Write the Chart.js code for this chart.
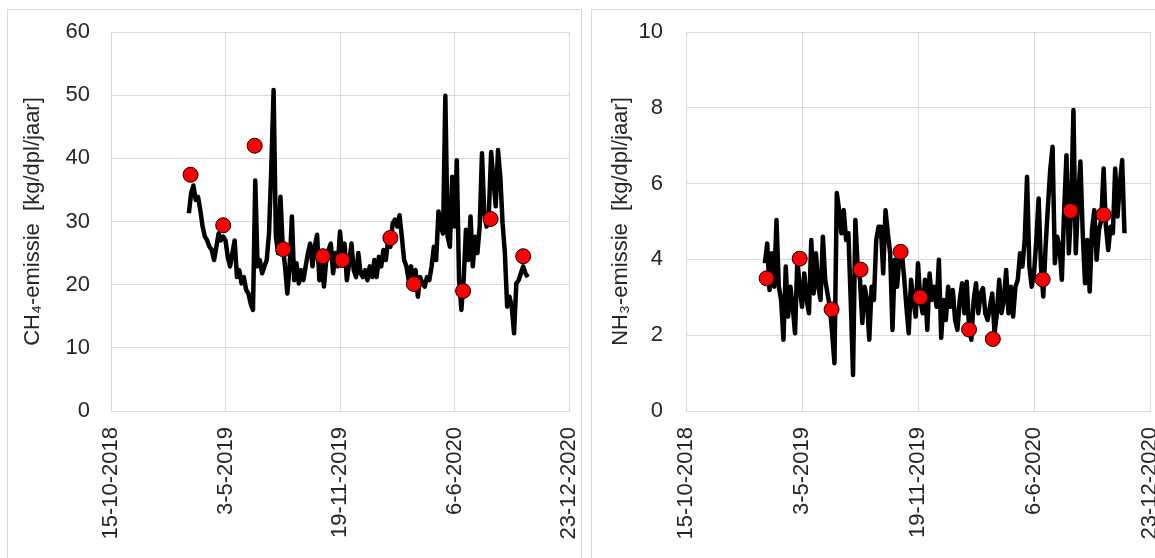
<!DOCTYPE html>
<html>
<head>
<meta charset="utf-8">
<script src="https://cdn.jsdelivr.net/npm/chart.js@4/dist/chart.umd.min.js"></script>
<style>
  html, body { margin: 0; padding: 0; background: #fff; overflow: hidden; }
  body { width: 1155px; height: 558px; position: relative; }
  .panel { position: absolute; top: 9px; height: 600px; border: 1px solid #d9d9d9; box-sizing: border-box; }
  canvas { position: absolute; top: 9px; }
</style>
</head>
<body>
<div class="panel" style="left:7px;width:575px;"></div>
<div class="panel" style="left:591px;width:600px;"></div>
<canvas id="ch4Chart" width="574" height="549" style="left:7px;"></canvas>
<canvas id="nh3Chart" width="580" height="549" style="left:591px;"></canvas>
<script>
// days counted from 15-10-2018; daily line sampled every 4 days
var lineStartDay = 136;
var lineStepDays = 4;

var ch4Daily = [
  31.3, 34.5, 35.7, 33.4, 33.9, 31.8, 29.2, 27.6, 27, 26, 25.5, 23.9, 26, 28.1, 27, 27.6, 27,
  24.4, 22.9, 25, 27, 21.2, 22.3, 20.2, 21.2, 19.2, 18.6, 17, 16, 36.5, 22.9, 23.9, 21.8, 22.9,
  23.9, 28.1, 38.4, 50.8, 27.6, 25, 33.9, 26, 22.9, 18.6, 22.9, 30.8, 20.7, 23.4, 20.2, 22.3, 20.7,
  22.9, 25, 26.5, 22.9, 26, 27.9, 20.7, 23.9, 19.7, 23.9, 25.5, 26.5, 21.8, 25, 22.9, 28.4, 24.4,
  26.5, 20.7, 23.4, 26.5, 22.3, 21.2, 25, 21.8, 21.2, 22.3, 20.7, 22.9, 21.2, 23.9, 21.2, 24.4,
  22.9, 25.5, 23.9, 27, 26, 29.7, 30.3, 29.2, 31, 27.6, 23.9, 22.9, 20.7, 22.9, 20.7, 22.3, 18.1,
  21.2, 20.2,
  19.7, 21.2, 20.7, 22.9, 26, 23.9, 31.6, 29.2, 28.1, 49.9, 27.6, 26, 37.1, 29.2, 39.7, 20.7, 16,
  20.7, 28.7, 23.9, 30.8, 22.9, 27.6, 25, 29.2, 40.8, 31.3, 29.2, 31.3, 41, 36.6, 32.4, 41.3, 37.1,
  29.7, 25, 16.5, 18.1, 16.5, 12.3, 20.2, 20.7, 21.8, 22.9, 21.8, 21.2
];

var nh3Daily = [
  3.9, 4.42, 3.19, 4.16, 3.28, 5.04, 3.28, 2.93, 1.88, 3.81, 2.49, 3.28, 2.75, 2.05, 3.99, 3.28,
  2.75, 3.63, 2.93, 2.58, 4.51, 3.1, 4.16, 3.28, 2.93, 4.6, 3.46, 3.1, 2.75, 2.05, 1.26, 5.75, 5.3,
  4.69, 5.3, 4.51, 4.69, 2.93, 0.95, 5.04, 3.81, 3.46, 2.32, 3.28, 2.93, 1.88, 3.28, 2.93, 4.51, 4.86,
  4.86, 3.63, 5.3, 4.69, 4.16, 2.14, 3.99, 3.28, 4.07, 4.2, 3.54, 2.75, 2.05, 3.46, 2.93, 2.49, 3.9,
  2.93, 2.58, 3.46, 2.14, 3.63, 2.93, 3.28, 2.75, 3.99, 1.93, 2.93, 2.4, 3.28, 2.75, 3.19, 2.4, 2.14,
  2.93, 3.37, 2.58, 3.41, 2.23, 1.88, 2.93, 3.37, 2.58, 3.1, 3.24, 2.58, 2.4, 2.75, 3.1, 2.05, 2.58,
  3.46, 2.58, 2.93, 3.72, 2.58, 3.28, 2.49, 3.28, 3.46, 4.16, 3.81, 4.51, 6.18, 3.81, 3.28, 3.63,
  4.51, 5.61, 3.81, 3.02, 4.33, 5.39, 6.36, 6.97, 3.9, 4.6, 4.33, 3.46, 5.3, 6.75, 4.16, 5.3, 7.94,
  4.16, 5.57, 6.58, 4.69, 3.37, 4.51, 3.15, 4.78, 5.3, 3.99, 4.78, 5.04, 6.4, 4.86, 4.25, 4.86, 4.69,
  6.4, 5.13, 6.0, 6.62, 4.69
];

// red sample points
var sampleDays = [139, 196, 251, 301, 370, 404, 488, 529, 615, 663, 720];
var ch4Samples = [37.4, 29.4, 42, 25.6, 24.5, 23.9, 27.4, 20.1, 19, 30.4, 24.5];
var nh3Samples = [3.5, 4.02, 2.68, 3.73, 4.2, 3.0, 2.15, 1.9, 3.47, 5.28, 5.18];

var baseDate = Date.UTC(2018, 9, 15);

function dayLabel(d) {
  var t = new Date(baseDate + d * 86400000);
  return t.getUTCDate() + '-' + (t.getUTCMonth() + 1) + '-' + t.getUTCFullYear();
}

function noPad(s) {
  s.paddingTop = 0;
  s.paddingBottom = 0;
  s.paddingLeft = 0;
  s.paddingRight = 0;
}

Chart.defaults.font.family = '"Liberation Sans", Arial, sans-serif';
Chart.defaults.color = '#262626';

function makeChart(id, daily, samples, yMax, yStep, title, cfg) {
  var linePts = daily.map(function (v, i) { return { x: lineStartDay + i * lineStepDays, y: v }; });
  var dotPts = samples.map(function (v, i) { return { x: sampleDays[i], y: v }; });
  return new Chart(document.getElementById(id), {
    type: 'line',
    data: {
      datasets: [
        {
          data: dotPts,
          showLine: false,
          pointRadius: 7.5,
          pointBackgroundColor: '#ff0000',
          pointBorderColor: '#000',
          pointBorderWidth: 1
        },
        {
          data: linePts,
          borderColor: '#000',
          borderWidth: 4.5,
          borderJoinStyle: 'round',
          pointRadius: 0,
          tension: 0
        }
      ]
    },
    options: {
      responsive: false,
      animation: false,
      devicePixelRatio: 1,
      layout: { padding: { top: 23, right: cfg.padRight, left: 0, bottom: 0 } },
      plugins: { legend: { display: false }, tooltip: { enabled: false } },
      scales: {
        x: {
          type: 'linear',
          min: 0,
          max: 800,
          grid: { color: '#d9d9d9', drawTicks: false },
          border: { color: '#d9d9d9' },
          ticks: {
            stepSize: 200,
            autoSkip: false,
            minRotation: 90,
            maxRotation: 90,
            padding: 16,
            font: { size: 22 },
            callback: function (v) { return dayLabel(v); }
          },
          afterFit: function (s) { s.height = 147; noPad(s); }
        },
        y: {
          min: 0,
          max: yMax,
          grid: { color: '#d9d9d9', drawTicks: false },
          border: { display: false },
          ticks: { stepSize: yStep, padding: cfg.tickPad, font: { size: 22 } },
          title: {
            display: true,
            text: title,
            font: { size: 22 },
            padding: { top: cfg.titlePad, bottom: 0 }
          },
          afterFit: function (s) { s.width = cfg.axisWidth; noPad(s); }
        }
      }
    }
  });
}

makeChart('ch4Chart', ch4Daily, ch4Samples, 60, 10, 'CH\u2084-emissie  [kg/dpl/jaar]',
  { padRight: 12, axisWidth: 104, tickPad: 21, titlePad: 13 });
makeChart('nh3Chart', nh3Daily, nh3Samples, 10, 2, 'NH\u2083-emissie  [kg/dpl/jaar]',
  { padRight: 21, axisWidth: 95, tickPad: 23, titlePad: 17 });
</script>
</body>
</html>
